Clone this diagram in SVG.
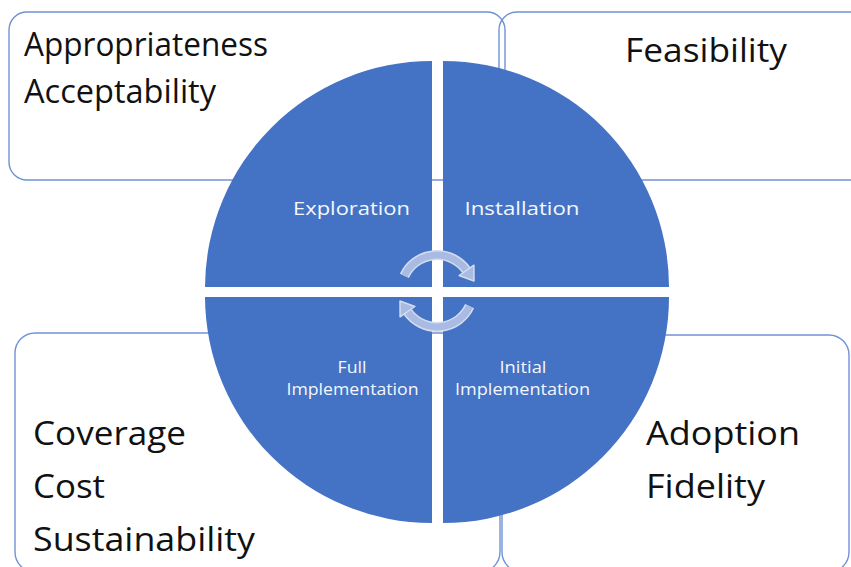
<svg xmlns="http://www.w3.org/2000/svg" width="851" height="567" viewBox="0 0 851 567">
<style>
.box{fill:none;stroke:#6F93D3;stroke-width:1.4}
.big{font-family:"Open Sans","Noto Sans","Liberation Sans",sans-serif;font-size:32.5px;fill:#111}
.q{fill:#4472C4}
.ql{font-family:"Open Sans","Noto Sans","Liberation Sans",sans-serif;fill:#F4F7FC;text-anchor:middle}
.l1{font-size:19px}
.l2{font-size:16px}
.ring{fill:none;stroke:#D3DCF0;stroke-width:10}
.ringc{fill:none;stroke:#A9BBE2;stroke-width:7}
.head{fill:#A9BBE2;stroke:#D3DCF0;stroke-width:1.5;stroke-linejoin:round}
</style>
<rect width="851" height="567" fill="#FFFFFF"/>
<g id="box-tl"><rect class="box" x="9" y="12" width="496" height="168" rx="18"/>
<text class="big" x="24" y="56" textLength="244" lengthAdjust="spacingAndGlyphs">Appropriateness</text>
<text class="big" x="24" y="103" textLength="192" lengthAdjust="spacingAndGlyphs">Acceptability</text></g>
<g id="box-tr"><rect class="box" x="499" y="12" width="380" height="168" rx="18"/>
<text class="big" x="625" y="62" textLength="162" lengthAdjust="spacingAndGlyphs">Feasibility</text></g>
<g id="box-bl"><rect class="box" x="15" y="333" width="485" height="239" rx="20"/>
<text class="big" x="33" y="445" textLength="153" lengthAdjust="spacingAndGlyphs">Coverage</text>
<text class="big" x="33" y="498" textLength="72" lengthAdjust="spacingAndGlyphs">Cost</text>
<text class="big" x="33" y="551" textLength="222" lengthAdjust="spacingAndGlyphs">Sustainability</text></g>
<g id="box-br"><rect class="box" x="502" y="335" width="347" height="237" rx="20"/>
<text class="big" x="646" y="445" textLength="154" lengthAdjust="spacingAndGlyphs">Adoption</text>
<text class="big" x="646" y="498" textLength="119" lengthAdjust="spacingAndGlyphs">Fidelity</text></g>
<g id="q-exploration"><path class="q" d="M432 287 L205 287 A227 227 0 0 1 432 61 Z"/>
<text class="ql l1" x="351.5" y="215" textLength="117" lengthAdjust="spacingAndGlyphs">Exploration</text></g>
<g id="q-installation"><path class="q" d="M443 287 L443 61 A226 226 0 0 1 669 287 Z"/>
<text class="ql l1" x="522" y="215" textLength="115" lengthAdjust="spacingAndGlyphs">Installation</text></g>
<g id="q-full"><path class="q" d="M432 297 L432 523 A227 227 0 0 1 205 297 Z"/>
<text class="ql l2" x="352" y="373" textLength="29" lengthAdjust="spacingAndGlyphs">Full</text>
<text class="ql l2" x="352.5" y="395" textLength="132" lengthAdjust="spacingAndGlyphs">Implementation</text></g>
<g id="q-initial"><path class="q" d="M443 297 L669 297 A226 226 0 0 1 443 523 Z"/>
<text class="ql l2" x="523" y="373" textLength="47" lengthAdjust="spacingAndGlyphs">Initial</text>
<text class="ql l2" x="522.5" y="395" textLength="135" lengthAdjust="spacingAndGlyphs">Implementation</text></g>
<g id="connectors">
<g id="arrow-top">
<path class="ring" d="M404.4 275.8 A36 36 0 0 1 466.5 270.4"/>
<path class="ringc" d="M404.4 275.8 A36 36 0 0 1 466.5 270.4"/>
<polygon class="head" points="459.1,275.5 473.9,265.2 474.0,281.0"/>
</g>
<g id="arrow-bottom" transform="rotate(180 437 291)">
<path class="ring" d="M404.4 275.8 A36 36 0 0 1 466.5 270.4"/>
<path class="ringc" d="M404.4 275.8 A36 36 0 0 1 466.5 270.4"/>
<polygon class="head" points="459.1,275.5 473.9,265.2 474.0,281.0"/>
</g>
</g>
</svg>
